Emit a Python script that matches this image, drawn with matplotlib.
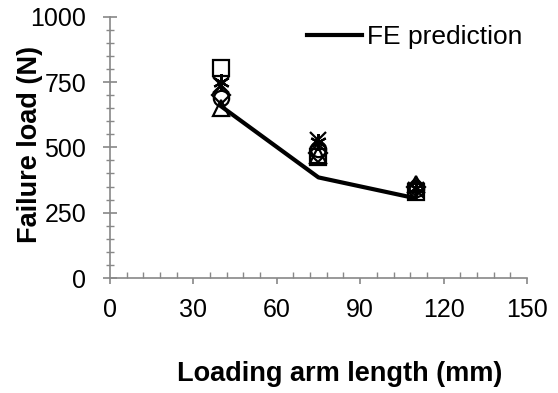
import numpy as np
import matplotlib
matplotlib.use('Agg')
from matplotlib import pyplot as plt
from matplotlib.ticker import MultipleLocator

plt.rcParams['font.family'] = ['Liberation Sans', 'DejaVu Sans']

# data
arm_length = [40, 75, 110]
fe_pred = [657, 385, 305]
sq = [805, 465, 328]
star = [752, 522, 345]
circ = [690, 492, 340]
diam = [702, 480, 350]
tri = [650, 470, 358]
cross = [738, 528, 335]

fig = plt.figure(figsize=(5.58, 3.93), dpi=100)
ax = fig.add_axes([0.197, 0.2926, 0.7474, 0.6649])

ax.plot(arm_length, fe_pred, color='black', lw=3, label='FE prediction', zorder=3)

# specimen markers (hollow, black)
mk = dict(linestyle='none', mfc='none', mec='black', mew=1.6, zorder=4)
ax.plot(arm_length, tri, marker='^', ms=12, **mk)
ax.plot(arm_length, diam, marker='D', ms=9, **mk)
ax.plot(arm_length, circ, marker='o', ms=11, **mk)
ax.plot(arm_length, sq, marker='s', ms=12, **mk)
ax.plot(arm_length, star, marker=(6, 2, 0), ms=12, **mk)
ax.plot(arm_length, cross, marker='x', ms=11, **mk)

ax.set_xlim(0, 150)
ax.set_ylim(0, 1000)
ax.xaxis.set_major_locator(MultipleLocator(30))
ax.xaxis.set_minor_locator(MultipleLocator(6))
ax.yaxis.set_major_locator(MultipleLocator(250))
ax.yaxis.set_minor_locator(MultipleLocator(50))

for s in ['top', 'right']:
    ax.spines[s].set_visible(False)
for s in ['left', 'bottom']:
    ax.spines[s].set_color('#888888')
    ax.spines[s].set_linewidth(1.2)

ax.tick_params(axis='x', which='major', direction='out', length=4.5, color='#888888', width=1.2, labelsize=18, pad=10)
ax.tick_params(axis='x', which='minor', direction='in', length=4, color='#888888', width=1)
ax.tick_params(axis='y', which='major', direction='inout', length=9.4, color='#888888', width=1.2, labelsize=18, pad=12.5)
ax.tick_params(axis='y', which='minor', direction='inout', length=6, color='#888888', width=1)

ax.set_xlabel('Loading arm length (mm)', fontsize=19.5, fontweight='bold')
ax.set_ylabel('Failure load (N)', fontsize=19.5, fontweight='bold')
ax.xaxis.set_label_coords(0.550, -0.318)
ax.yaxis.set_label_coords(-0.161, 0.51)

ax.legend(loc='center left', frameon=False, fontsize=19, handlelength=2.08,
          handletextpad=0.19, borderpad=0, borderaxespad=0,
          bbox_to_anchor=(307 / 558, 1 - 37 / 393), bbox_transform=fig.transFigure)

fig.savefig('out.png', dpi=100)
